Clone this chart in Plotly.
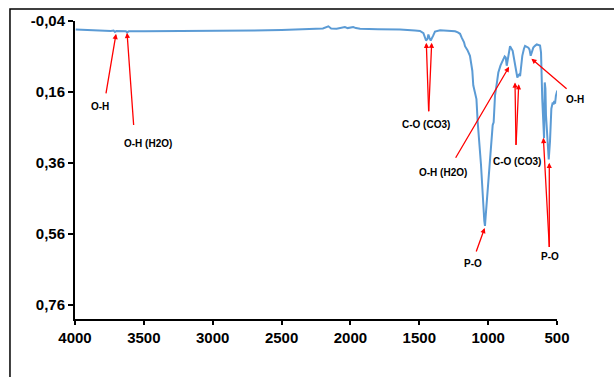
import plotly.graph_objects as go

# Spectrum (wavenumber cm-1, absorbance)
wavenumber = [3995, 3900, 3800, 3740, 3720, 3710, 3700, 3650, 3630, 3622, 3610, 3500, 3300, 3100,
              2900, 2700, 2500, 2366, 2250, 2200, 2160, 2140, 2100, 2060, 2040, 2020, 2000, 1980,
              1960, 1930, 1800, 1640, 1531, 1495, 1470, 1451, 1440, 1434, 1425, 1417, 1400, 1386,
              1349, 1300, 1277, 1240, 1220, 1204, 1192, 1175, 1168, 1161, 1150, 1132, 1115, 1108,
              1095, 1090, 1085, 1076, 1052, 1028, 1023, 1018, 1003, 990, 979, 970, 967, 960, 950,
              935, 926, 910, 901, 890, 880, 872, 865, 858, 841, 822, 805, 795, 788, 780, 774, 768,
              763, 752, 740, 732, 708, 700, 691, 680, 672, 660, 647, 623, 616, 607, 599, 594, 589,
              584, 580, 570, 560, 551, 541, 531, 525, 520, 514, 508, 502, 498]
absorbance = [-0.016, -0.014, -0.013, -0.012, -0.013, -0.009, -0.012, -0.012, -0.011, -0.008, -0.011,
              -0.011, -0.011, -0.011, -0.012, -0.013, -0.015, -0.016, -0.017, -0.019, -0.025, -0.019,
              -0.018, -0.020, -0.023, -0.020, -0.022, -0.023, -0.020, -0.018, -0.017, -0.016, -0.013,
              -0.012, -0.006, 0.015, 0.010, -0.002, 0.008, 0.015, 0.002, -0.010, -0.014, -0.013,
              -0.012, -0.011, -0.008, -0.004, 0.007, 0.020, 0.031, 0.035, 0.042, 0.058, 0.100, 0.141,
              0.160, 0.165, 0.180, 0.244, 0.364, 0.523, 0.537, 0.510, 0.430, 0.360, 0.301, 0.260,
              0.253, 0.245, 0.169, 0.130, 0.105, 0.085, 0.075, 0.068, 0.060, 0.063, 0.086, 0.070,
              0.031, 0.044, 0.085, 0.110, 0.119, 0.112, 0.110, 0.115, 0.096, 0.058, 0.038, 0.030,
              0.035, 0.040, 0.058, 0.042, 0.035, 0.030, 0.026, 0.029, 0.049, 0.180, 0.281, 0.290,
              0.133, 0.150, 0.225, 0.300, 0.350, 0.300, 0.207, 0.189, 0.195, 0.185, 0.193, 0.170,
              0.161, 0.156]

x_ticks = [4000, 3500, 3000, 2500, 2000, 1500, 1000, 500]
y_ticks = [-0.04, 0.16, 0.36, 0.56, 0.76]
y_tick_text = ["-0,04", "0,16", "0,36", "0,56", "0,76"]

# Band assignments: label, paper position of label
labels = ["O-H", "O-H (H2O)", "C-O (CO3)", "O-H (H2O)", "C-O (CO3)", "O-H", "P-O", "P-O"]
label_x = [0.0529, 0.1515, 0.728, 0.763, 0.917, 1.038, 0.826, 0.9865]
label_y = [0.714, 0.589, 0.654, 0.492, 0.528, 0.735, 0.186, 0.210]

# Arrow heads (wavenumber, absorbance) and tail offsets (px)
arrow_wn = [3702, 3622, 1449, 1410, 848, 805, 778, 686, 1025, 599, 556]
arrow_ab = [-0.0038, -0.0066, 0.0213, 0.0213, 0.089, 0.133, 0.138, 0.066, 0.543, 0.289, 0.359]
arrow_ax = [-10.3, 6.7, 2.4, -3.0, -54.3, 1.0, -2.7, 36.7, -9.0, 6.0, 0.0]
arrow_ay = [61, 93.7, 70, 70, 92.4, 64, 62, 31.3, 25, 110.7, 85.7]

FONT = "Arial, Liberation Sans, sans-serif"

fig = go.Figure()
fig.add_trace(go.Scatter(x=wavenumber, y=absorbance, mode="lines",
                         line=dict(color="#5B9BD5", width=2), hoverinfo="skip", showlegend=False))

annotations = []
for t, lx, ly in zip(labels, label_x, label_y):
    annotations.append(dict(text=t, x=lx, y=ly, xref="paper", yref="paper", showarrow=False,
                            font=dict(family=FONT, size=10, color="black", weight="bold"),
                            xanchor="center", yanchor="middle"))
for wx, wy, ax, ay in zip(arrow_wn, arrow_ab, arrow_ax, arrow_ay):
    annotations.append(dict(text="", x=wx, y=wy, xref="x", yref="y", ax=ax, ay=ay,
                            axref="pixel", ayref="pixel", showarrow=True, arrowhead=2,
                            arrowsize=0.8, arrowwidth=1.3, arrowcolor="red",
                            standoff=0, startstandoff=0))

fig.update_layout(
    width=614, height=377,
    margin=dict(l=75, r=57, t=18, b=58),
    paper_bgcolor="white", plot_bgcolor="white",
    showlegend=False,
    annotations=annotations,
    shapes=[dict(type="rect", xref="paper", yref="paper", x0=-0.1349, x1=1.2, y0=-0.3, y1=1.0399,
                 line=dict(color="black", width=1.5), fillcolor="rgba(0,0,0,0)", layer="below")],
    xaxis=dict(range=[4000, 500], tickvals=x_ticks, ticktext=[str(v) for v in x_ticks],
               showgrid=False, zeroline=False, showline=True, linecolor="black", linewidth=2,
               ticks="outside", ticklen=4, tickwidth=1.5, tickcolor="black",
               tickfont=dict(family=FONT, size=15, color="black", weight="bold")),
    yaxis=dict(range=[0.799, -0.04], tickvals=y_ticks, ticktext=y_tick_text,
               showgrid=False, zeroline=False, showline=True, linecolor="black", linewidth=2,
               ticks="outside", ticklen=5, tickwidth=1.5, tickcolor="black",
               tickfont=dict(family=FONT, size=15, color="black", weight="bold")),
)

fig.write_html("out.html")
